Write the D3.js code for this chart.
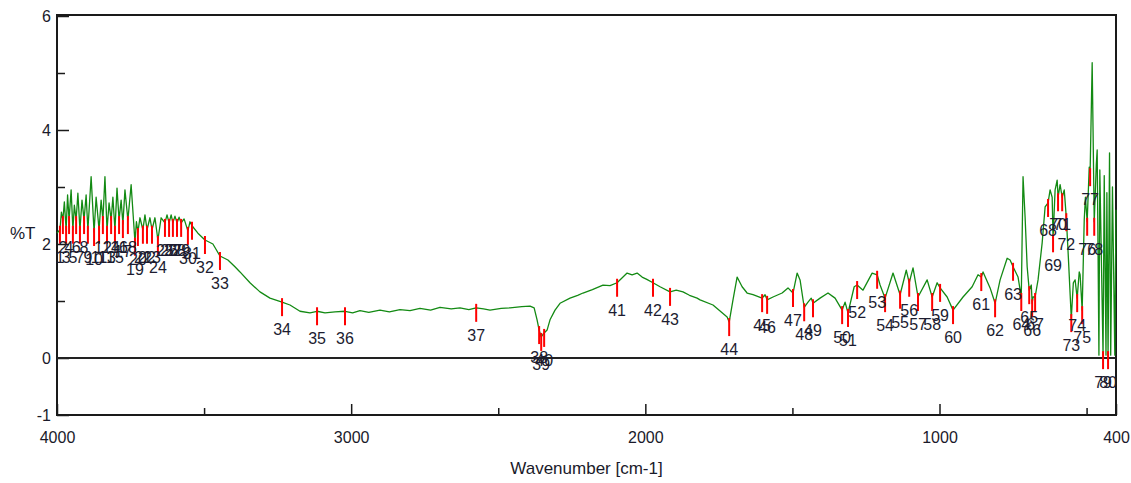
<!DOCTYPE html>
<html>
<head>
<meta charset="utf-8">
<script src="https://cdn.jsdelivr.net/npm/d3@7"></script>
<style>
  body { margin: 0; background: #fff; }
  text { font-family: "Liberation Sans", Arial, sans-serif; }
</style>
</head>
<body>
<div id="container"></div>
<script>
const WIDTH = 1131;
const HEIGHT = 483;
const LEFT = 57, RIGHT = 1116, TOP = 16, BOTTOM = 415;

// axis ticks
const xLabelTicks = [4000, 3000, 2000, 1000, 400];
const xMinorTicks = [3500, 2500, 1500, 500];
const yLabelTicks = [6, 4, 2, 0, -1];
const yMinorTicks = [5, 3, 1];

// spectrum: [wavenumber, %T]
const spectrum = [
  [4000,2.19],[3990,2.25],[3985,2.56],[3980,2.42],[3975,2.74],[3969,2.25],[3964,2.86],[3959,2.42],
  [3952,2.95],[3946,2.25],[3941,2.68],[3935,2.42],[3929,2.89],[3922,2.25],[3915,2.77],[3908,2.42],
  [3901,2.86],[3895,2.25],[3884,3.18],[3874,2.21],[3867,2.82],[3857,2.25],[3850,2.77],[3844,2.42],
  [3837,3.18],[3830,2.25],[3823,2.72],[3816,2.42],[3810,2.82],[3803,2.25],[3796,2.98],[3789,2.42],
  [3782,2.77],[3776,2.35],[3769,2.95],[3759,2.42],[3748,3.04],[3735,2.04],[3730,2.39],[3725,2.21],
  [3718,2.46],[3708,2.25],[3701,2.51],[3694,2.25],[3684,2.46],[3677,2.25],[3667,2.46],[3657,2.07],
  [3646,2.46],[3633,2.37],[3626,2.51],[3619,2.37],[3612,2.51],[3606,2.37],[3599,2.49],[3592,2.37],
  [3585,2.47],[3578,2.37],[3568,2.44],[3555,2.23],[3548,2.39],[3541,2.32],[3521,2.19],[3497,2.07],
  [3470,2.00],[3446,1.79],[3419,1.72],[3395,1.60],[3378,1.51],[3344,1.32],[3310,1.16],[3276,1.05],
  [3235,0.98],[3208,0.93],[3174,0.82],[3140,0.79],[3116,0.82],[3089,0.79],[3055,0.81],[3021,0.82],
  [2995,0.79],[2970,0.83],[2940,0.80],[2902,0.84],[2870,0.81],[2834,0.85],[2800,0.83],[2766,0.87],
  [2730,0.84],[2698,0.89],[2660,0.86],[2630,0.88],[2600,0.85],[2575,0.88],[2550,0.86],[2528,0.84],
  [2490,0.87],[2460,0.88],[2420,0.90],[2392,0.91],[2378,0.88],[2368,0.67],[2361,0.49],[2354,0.37],
  [2344,0.44],[2334,0.49],[2324,0.67],[2307,0.84],[2290,0.96],[2256,1.05],[2230,1.10],[2212,1.14],
  [2180,1.20],[2144,1.28],[2120,1.27],[2096,1.32],[2062,1.49],[2045,1.46],[2028,1.49],[2011,1.42],
  [1995,1.38],[1974,1.32],[1950,1.25],[1916,1.16],[1895,1.19],[1872,1.16],[1850,1.10],[1824,1.05],
  [1814,1.02],[1770,0.93],[1722,0.72],[1715,0.63],[1702,1.02],[1688,1.42],[1671,1.25],[1654,1.14],
  [1634,1.11],[1603,1.05],[1593,1.11],[1586,1.02],[1566,1.07],[1535,1.14],[1515,1.23],[1498,1.14],
  [1484,1.49],[1474,1.37],[1460,0.89],[1447,0.98],[1436,1.05],[1430,0.96],[1406,1.05],[1379,1.14],
  [1355,1.05],[1331,0.84],[1321,0.98],[1311,0.79],[1290,1.25],[1280,1.28],[1260,1.19],[1229,1.49],
  [1212,1.46],[1202,1.28],[1185,1.05],[1158,1.49],[1134,1.11],[1113,1.54],[1103,1.32],[1090,1.58],
  [1073,1.07],[1042,1.37],[1025,1.07],[1008,1.32],[998,1.23],[974,1.07],[954,0.84],[920,1.07],
  [889,1.25],[869,1.46],[858,1.42],[852,1.51],[828,1.23],[811,0.96],[794,1.37],[770,1.75],
  [760,1.72],[750,1.60],[733,1.42],[722,1.07],[716,3.18],[709,2.47],[702,1.60],[695,1.19],
  [688,1.28],[685,0.96],[682,1.07],[675,1.07],[665,1.37],[651,2.02],[641,2.65],[631,2.72],
  [624,2.95],[617,2.82],[614,2.10],[607,2.95],[600,3.12],[597,2.82],[590,3.04],[583,2.82],
  [576,2.95],[569,2.47],[562,1.77],[552,0.70],[545,1.32],[539,1.37],[532,1.05],[525,1.51],
  [522,1.46],[515,0.84],[508,2.42],[504,2.82],[498,2.39],[491,3.35],[488,3.26],[481,5.18],
  [478,4.00],[474,2.39],[467,3.39],[464,3.65],[458,0.05],[455,3.30],[444,0.05],[440,3.20],
  [434,0.05],[431,2.90],[427,0.05],[422,3.60],[418,0.05],[412,3.00],[404,0.05],[400,2.60]
];

// picked peaks (numbered 1..80 in order)
const peakWn = [
  3990,3980,3969,3959,3946,3935,3922,3908,3895,3874,3857,3844,3830,3816,3803,3789,3776,3759,
  3735,3725,3708,3694,3677,3657,3633,3619,3606,3592,3578,3555,3541,3497,3446,3235,3116,3021,
  2575,2361,2354,2344,2096,1974,1916,1715,1603,1586,1498,1460,1430,1331,1311,1280,1212,1185,
  1134,1103,1073,1025,998,954,858,811,750,722,695,685,675,631,614,597,583,569,552,532,515,
  498,488,474,444,427
];
const peakT = [
  2.25,2.42,2.25,2.42,2.25,2.42,2.25,2.42,2.25,2.21,2.25,2.42,2.25,2.42,2.25,2.42,2.35,2.42,
  2.04,2.21,2.25,2.25,2.25,2.07,2.37,2.37,2.37,2.37,2.37,2.23,2.32,2.07,1.79,0.98,0.82,0.82,
  0.88,0.49,0.37,0.44,1.32,1.32,1.16,0.63,1.05,1.02,1.14,0.89,0.96,0.84,0.79,1.28,1.46,1.05,
  1.11,1.32,1.07,1.07,1.23,0.84,1.42,0.96,1.60,1.07,1.19,0.96,1.07,2.72,2.10,2.82,2.82,2.47,
  0.70,1.05,0.84,2.39,3.26,2.39,0.05,0.05
];

var createChart = function () {
    var svg = d3.select("#container").append("svg")
        .attr("width", WIDTH)
        .attr("height", HEIGHT);

    var xScale = d3.scaleLinear().domain([4000, 400]).range([LEFT, RIGHT]);
    var yScale = d3.scaleLinear().domain([-1, 6]).range([BOTTOM, TOP]);
    var plain = function (d) { return String(d); };

    // x axis, ticks pointing into the plot
    var gx = svg.append("g")
        .attr("transform", translate(0, BOTTOM))
        .call(d3.axisBottom(xScale).tickValues(xLabelTicks)
            .tickSizeInner(-11).tickSizeOuter(0).tickPadding(17)
            .tickFormat(plain));
    var gxm = svg.append("g")
        .attr("transform", translate(0, BOTTOM))
        .call(d3.axisBottom(xScale).tickValues(xMinorTicks)
            .tickSizeInner(-7).tickSizeOuter(0).tickFormat(""));

    var gy = svg.append("g")
        .attr("transform", translate(LEFT, 0))
        .call(d3.axisLeft(yScale).tickValues(yLabelTicks)
            .tickSizeInner(-12).tickSizeOuter(0).tickPadding(6)
            .tickFormat(plain));
    var gym = svg.append("g")
        .attr("transform", translate(LEFT, 0))
        .call(d3.axisLeft(yScale).tickValues(yMinorTicks)
            .tickSizeInner(-8).tickSizeOuter(0).tickFormat(""));

    [gx, gxm, gy, gym].forEach(function (g) {
        g.select(".domain").remove();
        g.selectAll(".tick line").attr("stroke", "#1a1a1a").attr("stroke-width", 1.5);
        g.selectAll(".tick text").attr("fill", "#1a1a2a")
            .style("font-size", "16px")
            .style("font-family", "'Liberation Sans', Arial, sans-serif");
    });

    // frame
    svg.append("rect")
        .attr("x", LEFT).attr("y", TOP - 1)
        .attr("width", RIGHT - LEFT).attr("height", BOTTOM - TOP + 1)
        .attr("fill", "none")
        .attr("stroke", "#1a1a1a")
        .attr("stroke-width", 2);

    // zero line
    svg.append("line")
        .attr("x1", LEFT).attr("x2", RIGHT)
        .attr("y1", yScale(0)).attr("y2", yScale(0))
        .attr("stroke", "#222")
        .attr("stroke-width", 2);

    var line = d3.line()
        .x(function (d) { return xScale(d[0]); })
        .y(function (d) { return yScale(d[1]); });

    svg.append("path")
        .attr("d", line(spectrum))
        .attr("fill", "none")
        .attr("stroke", "#138a13")
        .attr("stroke-width", 1.3)
        .attr("stroke-linejoin", "round");

    var peaks = peakWn.map(function (w, i) { return {wn: w, t: peakT[i], label: i + 1}; });

    svg.selectAll("line.peak").data(peaks).enter()
        .append("line")
        .attr("class", "peak")
        .attr("x1", function (d) { return xScale(d.wn); })
        .attr("x2", function (d) { return xScale(d.wn); })
        .attr("y1", function (d) { return yScale(d.t) - 4; })
        .attr("y2", function (d) { return yScale(d.t) + 14; })
        .attr("stroke", "#ff0000")
        .attr("stroke-width", 2);

    svg.selectAll("text.peak").data(peaks).enter()
        .append("text")
        .attr("class", "peak")
        .attr("x", function (d) { return xScale(d.wn); })
        .attr("y", function (d) { return yScale(d.t) + 33; })
        .attr("text-anchor", "middle")
        .attr("fill", "#1c1c30")
        .style("font-size", "16px")
        .text(function (d) { return d.label; });

    svg.append("text")
        .attr("x", (LEFT + RIGHT) / 2)
        .attr("y", 474)
        .attr("text-anchor", "middle")
        .attr("fill", "#1a1a2a")
        .style("font-size", "17px")
        .text("Wavenumber [cm-1]");

    svg.append("text")
        .attr("x", 10)
        .attr("y", 239)
        .attr("fill", "#1a1a2a")
        .style("font-size", "17px")
        .text("%T");
};

var translate = function (x, y) {
    return "translate(" + x + "," + y + ")";
};

window.onload = createChart;
</script>
</body>
</html>
